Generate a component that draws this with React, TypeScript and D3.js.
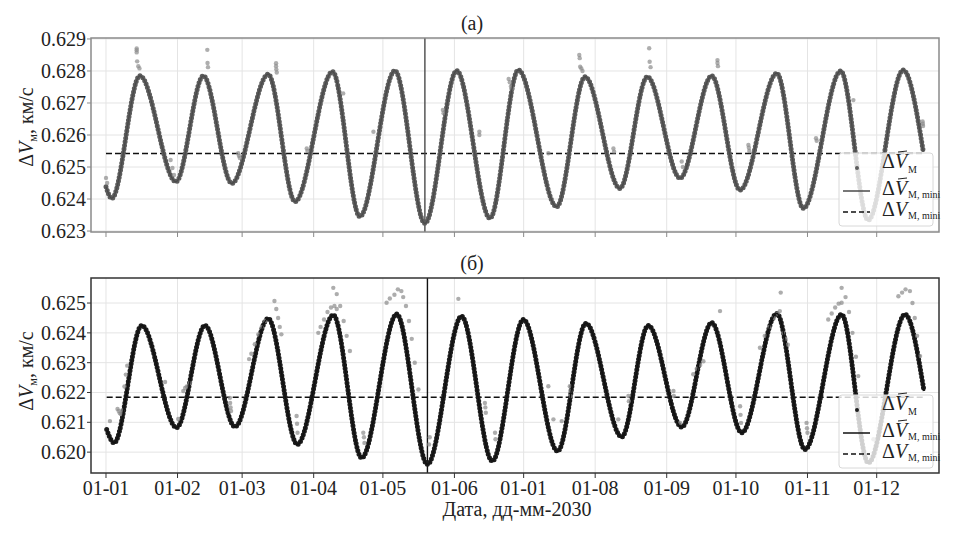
import React from "react";
import * as d3 from "d3";

// ---------- data (day offsets from 01-01-2030, values km/s) ----------
const xTickLabels = ["01-01", "01-02", "01-03", "01-04", "01-05", "01-06", "01-01", "01-08", "01-09", "01-10", "01-11", "01-12"];
const yTicksA = [0.623, 0.624, 0.625, 0.626, 0.627, 0.628, 0.629];
const yTicksB = [0.62, 0.621, 0.622, 0.623, 0.624, 0.625];

const extremaDaysA = [0, 2.5, 14.7, 30.3, 42.2, 54.5, 70.3, 81.9, 98.2, 110, 125.2, 138.2, 152, 166.4, 178.7, 195.3, 207.6, 222.7, 234.6, 248.8, 262.5, 274.8, 290.7, 302.2, 318.4, 330.3, 345.5, 354.2];
const extremaValsA = [0.62438, 0.62402, 0.62785, 0.62454, 0.62785, 0.62449, 0.6279, 0.62392, 0.62798, 0.62345, 0.62801, 0.62324, 0.62801, 0.6234, 0.62803, 0.62376, 0.62782, 0.62433, 0.62782, 0.62465, 0.62785, 0.62428, 0.62793, 0.62371, 0.628, 0.62334, 0.62803, 0.62548];
const meanA = 0.62542;

const extremaDaysB = [0.3, 3.5, 15.5, 30.6, 42.9, 55.9, 70.3, 82.9, 98.5, 110.8, 126, 139.3, 154.1, 167.4, 180.9, 195.7, 208, 223.5, 235, 249.5, 262.5, 275.5, 290.7, 302.9, 318.8, 330.4, 346.3, 354.5];
const extremaValsB = [0.62076, 0.62031, 0.62425, 0.62082, 0.62425, 0.62085, 0.62448, 0.62026, 0.6246, 0.61981, 0.62463, 0.61959, 0.62456, 0.6197, 0.62445, 0.62003, 0.62432, 0.62051, 0.62425, 0.62084, 0.62434, 0.62065, 0.62465, 0.62009, 0.62462, 0.61964, 0.62462, 0.62205];
const meanB = 0.62184;

const outlierDaysA = [0, 0.5, 13.3, 13.3, 13.3, 13.5, 14, 14.5, 28, 28.8, 29.5, 43.9, 44, 44.2, 57.3, 57.6, 58, 73.7, 73.7, 73.8, 74, 87, 87.3, 102.8, 115.9, 146, 146.3, 161.8, 161.8, 174.5, 175, 175.5, 176, 191.7, 205.1, 205.3, 205.5, 206, 206.5, 219.9, 220.2, 235.4, 235.6, 236, 249.5, 250, 265, 265, 265.2, 278.4, 278.6, 278.8, 307.7, 308, 323.9, 325.6, 353.9, 354, 354.1];
const outlierValsA = [0.62466, 0.6245, 0.6287, 0.62865, 0.62858, 0.6283, 0.62815, 0.62808, 0.62522, 0.62497, 0.62475, 0.62866, 0.62825, 0.62812, 0.62543, 0.62535, 0.62528, 0.62824, 0.62815, 0.62805, 0.62795, 0.62558, 0.6255, 0.6273, 0.6261, 0.62678, 0.62668, 0.6261, 0.626, 0.62775, 0.62765, 0.62752, 0.62745, 0.62543, 0.6285, 0.6284, 0.62813, 0.62808, 0.628, 0.62558, 0.62548, 0.62871, 0.62829, 0.62812, 0.62517, 0.625, 0.62834, 0.62825, 0.62815, 0.62569, 0.6256, 0.6255, 0.6259, 0.62582, 0.62709, 0.62496, 0.62642, 0.62635, 0.62628];

const outlierDaysB = [1.7, 5, 5.5, 6, 6.5, 7, 8, 8.6, 9.2, 25.6, 31.3, 33.5, 34.3, 35, 36.4, 53.7, 53.8, 54, 54.2, 62, 63, 64.5, 66, 67.5, 69, 73, 73.8, 74.6, 75.3, 76, 82.6, 82.8, 83, 92, 93, 94.5, 96, 97.5, 99, 100, 98.5, 100, 101.5, 103, 104.3, 105.7, 111.5, 111.8, 112, 121.6, 123, 125, 126.5, 128, 128.8, 130, 131.3, 132.5, 133.8, 135.4, 140, 140.3, 152.7, 164.2, 164.4, 164.6, 168.6, 168.8, 191.7, 193.9, 197.5, 201, 201.2, 201.4, 222, 226.4, 226.6, 245.9, 246.1, 248.8, 254.5, 256, 257.5, 258.9, 266.1, 274.8, 275, 275.2, 283.4, 285.5, 287.5, 289.5, 291, 292, 292.4, 293.5, 294.5, 295.5, 303.6, 303.8, 304, 313, 314.5, 316, 317.5, 318.8, 318.8, 320.5, 322, 323.5, 325, 326, 325.6, 332.6, 343.4, 345, 346.5, 348.4, 349.5, 350.5, 351.5, 352.8];
const outlierValsB = [0.62104, 0.62145, 0.62138, 0.6213, 0.62128, 0.6214, 0.6222, 0.6226, 0.6229, 0.62235, 0.62111, 0.62205, 0.62215, 0.6222, 0.62232, 0.62182, 0.62165, 0.6215, 0.62138, 0.62312, 0.6233, 0.62362, 0.62395, 0.6242, 0.6244, 0.62507, 0.6248, 0.6245, 0.6242, 0.62395, 0.62121, 0.62095, 0.62065, 0.624, 0.6242, 0.62445, 0.6247, 0.62485, 0.6249, 0.6248, 0.62551, 0.6253, 0.6249, 0.6244, 0.6239, 0.62339, 0.62065, 0.6205, 0.62031, 0.62501, 0.62515, 0.62528, 0.62546, 0.6254, 0.6252, 0.6249, 0.6244, 0.6238, 0.623, 0.6221, 0.62026, 0.6205, 0.62514, 0.62165, 0.6215, 0.62132, 0.62065, 0.62043, 0.62221, 0.6211, 0.62104, 0.62221, 0.62205, 0.62188, 0.6211, 0.62188, 0.62171, 0.62205, 0.62188, 0.62098, 0.62261, 0.6228, 0.62292, 0.62305, 0.62473, 0.62154, 0.62125, 0.62098, 0.6235, 0.6239, 0.6242, 0.6245, 0.62465, 0.62473, 0.62535, 0.624, 0.6238, 0.6236, 0.62098, 0.6208, 0.62065, 0.62445, 0.62465, 0.62485, 0.62498, 0.62501, 0.62551, 0.6252, 0.6247, 0.624, 0.6232, 0.62255, 0.62143, 0.62043, 0.62523, 0.62535, 0.62546, 0.6254, 0.625, 0.6245, 0.6239, 0.62322];

const markerDayA = 138.2;
const markerDayB = 139.3;

// ---------- helpers ----------
const T0 = Date.UTC(2030, 0, 1);
const toDate = (d: number) => new Date(T0 + d * 864e5);
const FONT = "Liberation Serif, Times New Roman, Times, DejaVu Serif, serif";

const x = d3.scaleUtc().domain([toDate(-6.5), toDate(361)]).range([91, 939]);
const monthTicks = d3.utcMonths(toDate(0), toDate(340));

type PanelProps = {
  top: number;
  bottom: number;
  domain: [number, number];
  yTicks: number[];
  days: number[];
  vals: number[];
  oDays: number[];
  oVals: number[];
  mean: number;
  vDay: number;
  title: string;
  bandColor: string;
  lineColor: string;
  frameColor: string;
  outlierColor: string;
  showXLabels: boolean;
  labelCenter: number;
  legendTop: number;
};

function Panel(p: PanelProps) {
  const y = d3.scaleLinear().domain(p.domain).range([p.bottom, p.top]);
  const pts = p.days.map((d, i) => [toDate(d), p.vals[i]] as [Date, number]);
  const line = d3
    .line<[Date, number]>()
    .x((d) => x(d[0]))
    .y((d) => y(d[1]))
    .curve(d3.curveMonotoneX);
  const path = line(pts) || "";
  const left = 91, right = 939;
  const x0 = x(toDate(p.days[0]));
  const x1 = x(toDate(p.days[p.days.length - 1]));
  const lx = 839, lw = 94, lt = p.legendTop;
  const txt = 882;
  const legendRow = (baseY: number, bar: boolean) => (
    <g>
      <text x={txt} y={baseY} fontFamily={FONT} fontSize={20} fill="#222">
        <tspan>Δ</tspan>
        <tspan fontStyle="italic">V</tspan>
      </text>
      {bar && <line x1={txt + 16} x2={txt + 25} y1={baseY - 16} y2={baseY - 17} stroke="#222" strokeWidth={1} />}
    </g>
  );
  return (
    <g>
      {/* grid */}
      {p.yTicks.map((t) => (
        <line key={"gy" + t} x1={left} x2={right} y1={y(t)} y2={y(t)} stroke="#e4e4e4" strokeWidth={1} />
      ))}
      {monthTicks.map((m, i) => (
        <line key={"gx" + i} x1={x(m)} x2={x(m)} y1={p.top} y2={p.bottom} stroke="#e4e4e4" strokeWidth={1} />
      ))}
      {/* mean dashed */}
      <line x1={x0} x2={x1} y1={y(p.mean)} y2={y(p.mean)} stroke="#111" strokeWidth={1.6} strokeDasharray="6,3" />
      {/* vertical marker line */}
      <line x1={x(toDate(p.vDay))} x2={x(toDate(p.vDay))} y1={p.top} y2={p.bottom} stroke={p.lineColor} strokeWidth={1.4} />
      {/* dense scatter band */}
      <path d={path} fill="none" stroke={p.bandColor} strokeWidth={2.6} strokeLinejoin="round" />
      <path d={path} fill="none" stroke={p.bandColor} strokeWidth={5} strokeDasharray="0 3.6" strokeLinecap="round" />
      {/* outliers */}
      {p.oDays.map((d, i) => (
        <circle key={"o" + i} cx={x(toDate(d))} cy={y(p.oVals[i])} r={2.2} fill={p.outlierColor} fillOpacity={0.7} />
      ))}
      {/* mini line */}
      <path d={path} fill="none" stroke={p.lineColor} strokeWidth={1.3} />
      {/* frame */}
      <rect x={left} y={p.top} width={right - left} height={p.bottom - p.top} fill="none" stroke={p.frameColor} strokeWidth={1.5} />
      {/* y ticks */}
      {p.yTicks.map((t) => (
        <g key={"yt" + t}>
          <line x1={left - 4} x2={left} y1={y(t)} y2={y(t)} stroke={p.frameColor} strokeWidth={1} />
          <text x={86} y={y(t) + 7} textAnchor="end" fontFamily={FONT} fontSize={20} fill="#222">
            {d3.format(".3f")(t)}
          </text>
        </g>
      ))}
      {/* x ticks */}
      {monthTicks.map((m, i) => (
        <g key={"xt" + i}>
          <line x1={x(m)} x2={x(m)} y1={p.bottom} y2={p.bottom + 5} stroke={p.frameColor} strokeWidth={1} />
          {p.showXLabels && (
            <text x={x(m)} y={p.bottom + 22} textAnchor="middle" fontFamily={FONT} fontSize={20} fill="#222">
              {xTickLabels[i]}
            </text>
          )}
        </g>
      ))}
      {/* title */}
      <text x={472} y={p.top - 8} textAnchor="middle" fontFamily={FONT} fontSize={20} fill="#222">
        {p.title}
      </text>
      {/* y label */}
      <text transform={`translate(33,${p.labelCenter}) rotate(-90)`} textAnchor="middle" fontFamily={FONT} fontSize={20} fill="#222">
        <tspan>Δ</tspan>
        <tspan fontStyle="italic">V</tspan>
        <tspan fontSize={12} dy={4}>м</tspan>
        <tspan dy={-4}>, км/с</tspan>
      </text>
      {/* legend */}
      <rect x={lx} y={lt} width={lw} height={73} rx={3} fill="#fff" fillOpacity={0.8} stroke="#d8d8d8" strokeWidth={1} />
      <circle cx={857} cy={lt + 15} r={2} fill={p.bandColor} />
      {legendRow(lt + 15 + 0, true)}
      <text x={txt + 26} y={lt + 20} fontFamily={FONT} fontSize={10} fill="#222">M</text>
      <line x1={843} x2={870} y1={lt + 38} y2={lt + 38} stroke={p.lineColor} strokeWidth={1.5} />
      {legendRow(lt + 42, true)}
      <text x={txt + 26} y={lt + 45} fontFamily={FONT} fontSize={10} fill="#222">M, mini</text>
      <line x1={843} x2={870} y1={lt + 59} y2={lt + 59} stroke="#111" strokeWidth={1.6} strokeDasharray="5,3" />
      {legendRow(lt + 63, false)}
      <text x={txt + 26} y={lt + 66} fontFamily={FONT} fontSize={10} fill="#222">M, mini</text>
    </g>
  );
}

export default function App() {
  return (
    <svg width={973} height={542} style={{ position: "absolute", left: 0, top: 0, background: "#fff" }}>
      <rect x={0} y={0} width={973} height={542} fill="#fff" />
      <Panel
        top={38}
        bottom={232}
        domain={[0.62297, 0.62903]}
        yTicks={yTicksA}
        days={extremaDaysA}
        vals={extremaValsA}
        oDays={outlierDaysA}
        oVals={outlierValsA}
        mean={meanA}
        vDay={markerDayA}
        title="(a)"
        bandColor="#5c5c5c"
        lineColor="#4a4a4a"
        frameColor="#8a8a8a"
        outlierColor="#8c8c8c"
        showXLabels={false}
        labelCenter={127}
        legendTop={153}
      />
      <Panel
        top={278}
        bottom={473}
        domain={[0.6193, 0.62584]}
        yTicks={yTicksB}
        days={extremaDaysB}
        vals={extremaValsB}
        oDays={outlierDaysB}
        oVals={outlierValsB}
        mean={meanB}
        vDay={markerDayB}
        title="(б)"
        bandColor="#1c1c1c"
        lineColor="#111"
        frameColor="#333"
        outlierColor="#8a8a8a"
        showXLabels={true}
        labelCenter={371}
        legendTop={395}
      />
      <text x={517} y={516} textAnchor="middle" fontFamily={FONT} fontSize={20} fill="#222">
        Дата, дд-мм-2030
      </text>
    </svg>
  );
}
